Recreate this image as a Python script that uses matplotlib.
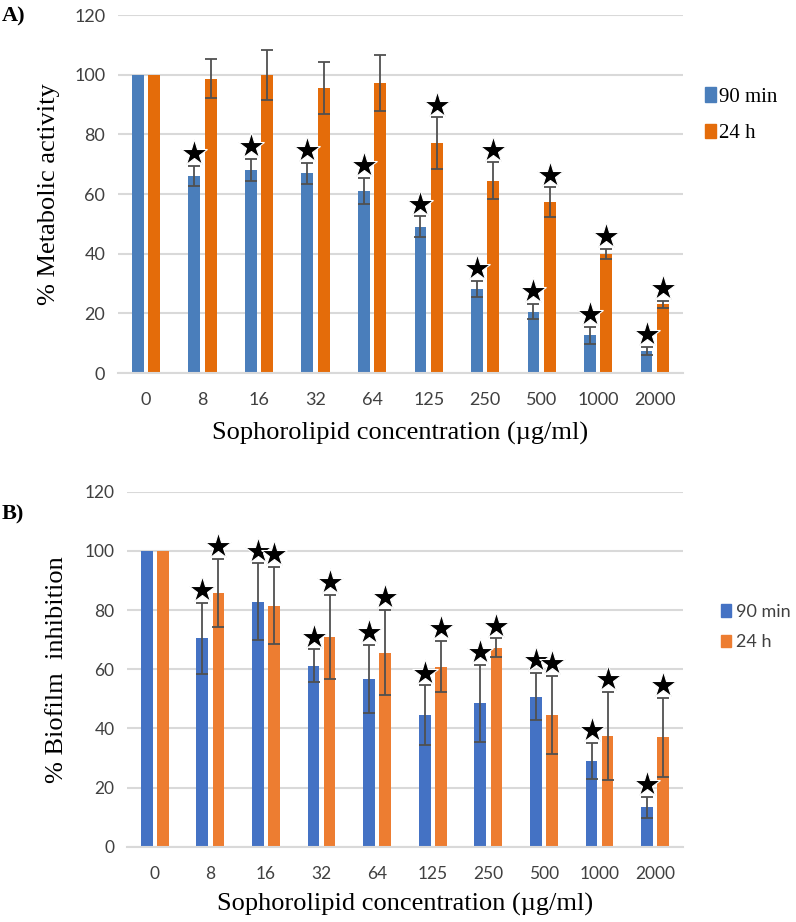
import numpy as np
import matplotlib
matplotlib.use('Agg')
import matplotlib.pyplot as plt
from matplotlib.patches import Patch

# --- data ---
concentrations = ['0', '8', '16', '32', '64', '125', '250', '500', '1000', '2000']

# A) metabolic activity
a_90min = [100, 66.1, 68.1, 66.9, 61.1, 49.0, 28.3, 20.6, 12.7, 7.4]
a_90min_err = [0, 3.3, 3.6, 3.6, 4.4, 3.5, 2.7, 2.5, 2.8, 1.3]
a_24h = [100, 98.7, 99.8, 95.5, 97.2, 77.0, 64.4, 57.2, 39.8, 23.0]
a_24h_err = [0, 6.5, 8.4, 8.8, 9.3, 8.7, 6.2, 5.0, 1.7, 1.1]
a_star_90 = [False, True, True, True, True, True, True, True, True, True]
a_star_24 = [False, False, False, False, False, True, True, True, True, True]

# B) biofilm inhibition
b_90min = [100, 70.4, 82.8, 61.1, 56.7, 44.5, 48.5, 50.7, 29.0, 13.3]
b_90min_err = [0, 12.1, 13.0, 5.6, 11.5, 10.0, 13.0, 8.0, 6.2, 3.6]
b_24h = [100, 85.7, 81.5, 71.0, 65.6, 60.9, 67.3, 44.5, 37.4, 37.0]
b_24h_err = [0, 11.5, 13.0, 14.2, 14.4, 8.7, 3.1, 13.2, 15.0, 13.4]
b_star_90 = [False] + [True] * 9
b_star_24 = [False] + [True] * 9

# --- style ---
A_BLUE, A_ORANGE = '#4a7ebb', '#e46c0a'
B_BLUE, B_ORANGE = '#4472c4', '#ed7d31'
GRID = '#d9d9d9'
ERR = '#505050'
BAR_W = 0.21
OFFS = 0.145
STAR_PAD = 4.3

fig = plt.figure(figsize=(7.96, 9.22), dpi=100)


def panel(ax, s1, e1, s2, e2, st1, st2, c1, c2, tickfont, tsize):
    x = np.arange(len(concentrations))
    for xs, vals, errs, stars, col in [(x - OFFS, s1, e1, st1, c1), (x + OFFS, s2, e2, st2, c2)]:
        ax.bar(xs, vals, width=BAR_W, color=col, zorder=2)
        errs = np.array(errs)
        m = errs > 0
        ax.errorbar(xs[m], np.array(vals)[m], yerr=errs[m], fmt='none', ecolor=ERR,
                    elinewidth=1.3, capsize=4, capthick=1.3, zorder=3)
        tops = np.array(vals) + errs + STAR_PAD
        sel = np.array(stars)
        ax.plot(xs[sel], tops[sel], linestyle='none', marker='*', markersize=20,
                color='black', markeredgecolor='white', markeredgewidth=0.8, zorder=4)
    ax.set_xlim(-0.5, len(concentrations) - 0.5)
    ax.set_ylim(0, 120)
    ax.set_yticks(range(0, 121, 20))
    ax.set_xticks(x)
    ax.set_xticklabels(concentrations)
    ax.yaxis.grid(True, color=GRID, linewidth=1.5, zorder=0)
    ax.set_axisbelow(True)
    for s in ['top', 'right', 'left']:
        ax.spines[s].set_visible(False)
    ax.spines['bottom'].set_color(GRID)
    ax.spines['bottom'].set_linewidth(1.5)
    ax.tick_params(axis='y', length=0, labelsize=tsize, labelcolor='#404040', pad=9)
    ax.tick_params(axis='x', length=0, labelsize=tsize, labelcolor='#404040', pad=14)
    for lab in ax.get_xticklabels() + ax.get_yticklabels():
        lab.set_family(tickfont)


# panel A
axA = fig.add_axes([0.148, 0.5954, 0.710, 0.3883])
panel(axA, a_90min, a_90min_err, a_24h, a_24h_err, a_star_90, a_star_24,
      A_BLUE, A_ORANGE, 'Lato', 13)
axA.set_xlabel('Sophorolipid concentration (µg/ml)', family='Liberation Serif', fontsize=19, labelpad=10)
axA.set_ylabel('% Metabolic activity', family='Liberation Serif', fontsize=19, labelpad=10)
legA = axA.legend([Patch(color=A_BLUE), Patch(color=A_ORANGE)], ['90 min', '24 h'],
                  loc='upper left', bbox_to_anchor=(1.005, 0.85), frameon=False,
                  handlelength=0.55, handleheight=0.7, handletextpad=0.15, labelspacing=0.8,
                  prop={'family': 'Liberation Serif', 'size': 15})
fig.text(0.002, 0.982, 'A)', family='Liberation Serif', weight='bold', fontsize=16, va='center')

# panel B
axB = fig.add_axes([0.1595, 0.0817, 0.6985, 0.385])
panel(axB, b_90min, b_90min_err, b_24h, b_24h_err, b_star_90, b_star_24,
      B_BLUE, B_ORANGE, 'Lato', 12.5)
axB.set_xlabel('Sophorolipid concentration (µg/ml)', family='Liberation Serif', fontsize=19, labelpad=8)
axB.set_ylabel('% Biofilm  inhibition', family='Liberation Serif', fontsize=19, labelpad=12)
legB = axB.legend([Patch(color=B_BLUE), Patch(color=B_ORANGE)], ['90 min', '24 h'],
                  loc='upper left', bbox_to_anchor=(1.04, 0.73), frameon=False,
                  handlelength=0.55, handleheight=0.7, handletextpad=0.25, labelspacing=0.8,
                  prop={'family': 'Lato', 'size': 13})
for t in legB.get_texts():
    t.set_color('#404040')
fig.text(0.002, 0.442, 'B)', family='Liberation Serif', weight='bold', fontsize=16, va='center')

fig.savefig('out.png', dpi=100)
